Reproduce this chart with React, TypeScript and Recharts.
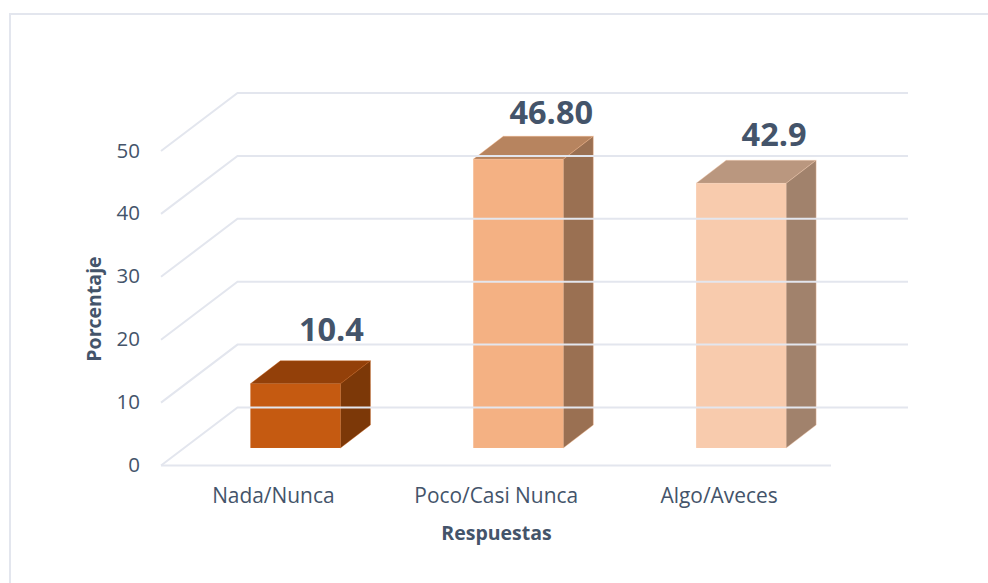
import { Bar, ComposedChart, LabelList, Line, XAxis, YAxis } from "recharts"

const categories = ["Nada/Nunca", "Poco/Casi Nunca", "Algo/Aveces"]
const values = [10.4, 46.8, 42.9]
const valueLabels = ["10.4", "46.80", "42.9"]
const yTicks = [0, 10, 20, 30, 40, 50]

const frontColors = ["#C55A11", "#F4B183", "#F8CBAD"]
const topColors = ["#934009", "#B7845F", "#BA977F"]
const sideColors = ["#7C3808", "#9A7052", "#A1826C"]

const textColor = "#44546A"
const gridColor = "#E3E6EE"
const fontFamily = "'Open Sans', sans-serif"

// depth of the 3D box
const depthX = 30
const depthY = 23
// depth of the chart walls
const wallX = 76.5
const wallY = 58
const wallLeft = 161
// the value labels were dragged by hand in the original
const labelShiftX = [36, 33, 33]
const labelShiftY = [43, 35, 37]

const chartData = categories.map((name, i) => ({ name, value: values[i], label: valueLabels[i] }))

function WallTick({ y, payload }: any) {
  return (
    <g>
      <polyline
        points={`${wallLeft},${y} ${wallLeft + wallX},${y - wallY} 908,${y - wallY}`}
        fill="none"
        stroke={gridColor}
        strokeWidth={2}
      />
      {payload.value === 0 && <line x1={wallLeft} y1={y} x2={831} y2={y} stroke={gridColor} strokeWidth={2} />}
      <text x={140} y={y + 6.5} textAnchor="end" fontSize={20.5} fontFamily={fontFamily} fill={textColor}>
        {payload.value}
      </text>
    </g>
  )
}

function CategoryTick({ x, y, payload }: any) {
  return (
    <text x={x - 22.5} y={y + 29} textAnchor="middle" fontSize={20.9} fontFamily={fontFamily} fill={textColor}>
      {payload.value}
    </text>
  )
}

function Box3D({ x, y, width, height, index }: any) {
  const r = x + width
  const b = y + height
  return (
    <g>
      <polygon
        points={`${x},${y} ${x + depthX},${y - depthY} ${r + depthX},${y - depthY} ${r},${y}`}
        fill={topColors[index]}
        stroke={frontColors[index]}
        strokeOpacity={0.4}
      />
      <polygon
        points={`${r},${y} ${r + depthX},${y - depthY} ${r + depthX},${b - depthY} ${r},${b}`}
        fill={sideColors[index]}
        stroke={frontColors[index]}
        strokeOpacity={0.4}
      />
      <rect x={x} y={y} width={width} height={height} fill={frontColors[index]} />
    </g>
  )
}

function BoxLabel({ x, y, width, index }: any) {
  return (
    <text
      x={x + width / 2 + labelShiftX[index]}
      y={y - labelShiftY[index]}
      textAnchor="middle"
      fontSize={32.5}
      fontWeight={700}
      fontFamily={fontFamily}
      fill={textColor}
    >
      {valueLabels[index]}
    </text>
  )
}

export default function App() {
  return (
    <div style={{ position: "absolute", left: 0, top: 0, width: 988, height: 583, overflow: "hidden", background: "#fff" }}>
      <div
        style={{
          position: "absolute",
          left: 9,
          top: 13,
          width: 979,
          height: 570,
          borderLeft: `2px solid ${gridColor}`,
          borderTop: `2px solid ${gridColor}`,
          boxSizing: "border-box",
        }}
      />
      <div style={{ position: "absolute", left: 0, top: 0 }}>
        <ComposedChart
          width={988}
          height={583}
          data={chartData}
          margin={{ top: 151, right: 135, bottom: 87.5, left: 0 }}
          barSize={90}
        >
          <XAxis dataKey="name" axisLine={false} tickLine={false} tick={<CategoryTick />} interval={0} />
          <YAxis
            width={184.4}
            domain={[0, 50]}
            ticks={yTicks}
            axisLine={false}
            tickLine={false}
            tick={<WallTick />}
            interval={0}
          />
          <YAxis yAxisId="bars" hide domain={[-2.84, 48.14]} />
          {/* keeps the visible axis bound to the data */}
          <Line dataKey="value" stroke="none" dot={false} legendType="none" isAnimationActive={false} />
          <Bar dataKey="value" yAxisId="bars" shape={<Box3D />} isAnimationActive={false}>
            <LabelList dataKey="label" content={<BoxLabel />} />
          </Bar>
          <text
            x={101}
            y={309}
            transform="rotate(-90 101 309)"
            textAnchor="middle"
            fontSize={19.5}
            fontWeight={700}
            fontFamily={fontFamily}
            fill={textColor}
          >
            Porcentaje
          </text>
          <text x={496.5} y={540} textAnchor="middle" fontSize={19.5} fontWeight={700} fontFamily={fontFamily} fill={textColor}>
            Respuestas
          </text>
        </ComposedChart>
      </div>
    </div>
  )
}
